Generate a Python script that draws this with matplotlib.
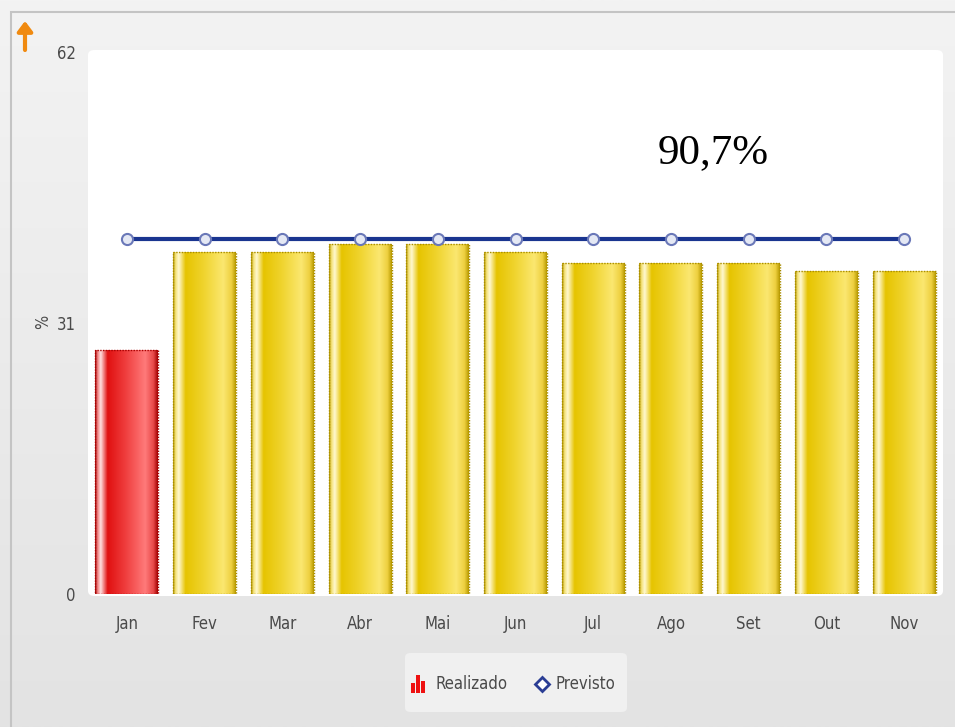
import numpy as np
import matplotlib
matplotlib.use("Agg")
import matplotlib.pyplot as plt
from matplotlib.colors import LinearSegmentedColormap
from matplotlib.patches import FancyBboxPatch, Rectangle
from matplotlib.font_manager import FontProperties

months = ["Jan", "Fev", "Mar", "Abr", "Mai", "Jun", "Jul", "Ago", "Set", "Out", "Nov"]
realizado = [27.9, 39.1, 39.1, 40.0, 40.0, 39.1, 37.9, 37.9, 37.9, 36.9, 36.9]
previsto = [40.6] * 11
y_ticks = [0, 31, 62]
annotation = "90,7%"
legend_labels = ["Realizado", "Previsto"]

plt.rcParams["font.family"] = ["DejaVu Sans"]
fp = FontProperties(family="DejaVu Sans", stretch="condensed", size=12)

W, H = 955, 727
fig = plt.figure(figsize=(W / 100, H / 100), dpi=100)

bg = fig.add_axes([0, 0, 1, 1], zorder=-10)
grad_v = np.linspace(0, 1, 256).reshape(-1, 1)
bg_cmap = LinearSegmentedColormap.from_list("bg", ["#f3f3f3", "#e3e3e3"])
bg.imshow(grad_v, aspect="auto", cmap=bg_cmap, extent=[0, 1, 0, 1], origin="upper")
bg.set_xlim(0, 1); bg.set_ylim(0, 1); bg.axis("off")
bg.add_patch(Rectangle((11 / W, -0.1), 2, 1 - 12 / H + 0.1, fill=False, edgecolor="#c4c4c4", lw=1.5))

def fx(px):
    return px / W

def fy(py):
    return 1 - py / H

bg.add_patch(FancyBboxPatch((fx(88), fy(596)), fx(943) - fx(88), fy(50) - fy(596),
                            boxstyle="round,pad=0,rounding_size=0.007",
                            facecolor="white", edgecolor="none"))
bg.add_patch(FancyBboxPatch((fx(405), fy(712)), fx(627) - fx(405), fy(653) - fy(712),
                            boxstyle="round,pad=0,rounding_size=0.006",
                            facecolor="#f0f0f0", edgecolor="none"))

ax = fig.add_axes([fx(88), fy(594), fx(943) - fx(88), fy(52) - fy(594)])
ax.set_facecolor("none")
for s in ax.spines.values():
    s.set_visible(False)

yellow_cmap = LinearSegmentedColormap.from_list("y", [
    (0.0, "#b89a00"), (0.04, "#f4e27a"), (0.09, "#fff8d0"), (0.2, "#e6c400"),
    (0.5, "#f0d430"), (0.8, "#fbe770"), (0.93, "#eed040"), (1.0, "#b89a00")])
red_cmap = LinearSegmentedColormap.from_list("r", [
    (0.0, "#a00000"), (0.04, "#f08080"), (0.09, "#ffe0e0"), (0.2, "#e01010"),
    (0.5, "#f04040"), (0.8, "#ff7a7a"), (0.93, "#e84848"), (1.0, "#a00000")])

x = np.arange(len(months))
width = 0.81
grad_h = np.linspace(0, 1, 256).reshape(1, -1)
for i, v in enumerate(realizado):
    cm = red_cmap if i == 0 else yellow_cmap
    ec = "#a80000" if i == 0 else "#a88c00"
    bar = ax.bar(x[i], v, width=width, facecolor="none", edgecolor=ec, lw=1.0,
                 linestyle=(0, (1, 1)), zorder=3)[0]
    im = ax.imshow(grad_h, extent=[x[i] - width / 2, x[i] + width / 2, 0, v],
                   aspect="auto", cmap=cm, zorder=2)
    im.set_clip_path(bar)

ax.plot(x, previsto, color="#1a3590", lw=3, zorder=4)
ax.plot(x, previsto, linestyle="none", marker="o", markersize=8,
        markerfacecolor="#e4e8f4", markeredgecolor="#6a78b8", markeredgewidth=1.5, zorder=5)

ax.set_xlim(-0.5, len(months) - 0.5)
ax.set_ylim(0, 62)
ax.set_xticks(x)
ax.set_xticklabels(months)
ax.set_yticks(y_ticks)
ax.tick_params(length=0, colors="#4a4a4a")
ax.tick_params(axis="x", pad=15)
ax.tick_params(axis="y", pad=9)
for lab in ax.get_xticklabels() + ax.get_yticklabels():
    lab.set_fontproperties(fp)
    lab.set_color("#4a4a4a")

fig.text(fx(43), fy(322), "%", rotation=90, ha="center", va="center",
         fontproperties=fp, color="#4a4a4a")

fig.text(fx(713), fy(153), annotation, ha="center", va="center",
         fontsize=31, family="Liberation Serif", color="black")

bg.annotate("", xy=(fx(25), fy(21)), xytext=(fx(25), fy(50)),
            arrowprops=dict(arrowstyle="-|>,head_width=0.45,head_length=0.6",
                            color="#f08a10", lw=3, shrinkA=0, shrinkB=0))

bars_icon = [(413, 10), (418, 18), (423, 12)]
for px, h in bars_icon:
    bg.add_patch(Rectangle((fx(px - 2), fy(693)), fx(4), h / H, facecolor="#ee1111", edgecolor="none"))
fig.text(fx(435), fy(684), legend_labels[0], ha="left", va="center",
         fontproperties=fp, color="#4a4a4a")
bg.plot([fx(542)], [fy(684)], marker="D", markersize=7, markerfacecolor="white",
        markeredgecolor="#2a3d94", markeredgewidth=2)
fig.text(fx(555), fy(684), legend_labels[1], ha="left", va="center",
         fontproperties=fp, color="#4a4a4a")

fig.savefig("out.png", dpi=100)
